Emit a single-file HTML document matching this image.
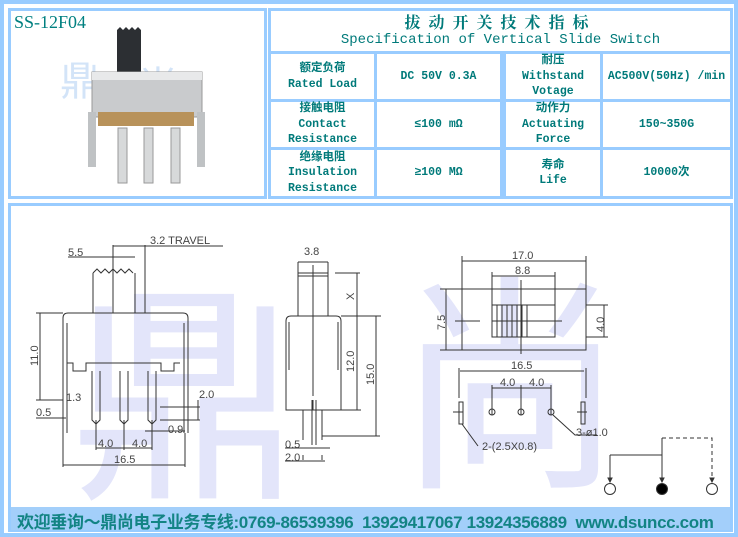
<!DOCTYPE html>
<html><head><meta charset="utf-8"><style>
body{margin:0;width:738px;height:537px;background:#fff;position:relative;overflow:hidden;font-family:"Liberation Mono","Noto Sans CJK SC",monospace;}
.b{position:absolute;border:3px solid #99ccff;box-sizing:border-box}
.c{position:absolute;box-sizing:border-box;border:3px solid #99ccff;display:flex;flex-direction:column;align-items:center;justify-content:center;color:#007a7a;font-weight:bold;font-size:11.5px;line-height:15.5px;text-align:center;white-space:nowrap}
</style></head><body>
<div class="b" style="left:0;top:0;width:738px;height:537px;border-width:4px"></div>
<div class="b" style="left:8;top:8px;left:8px;width:259px;height:191px"></div>
<div style="position:absolute;left:14px;top:12px;font-family:'Liberation Serif',serif;font-size:18px;color:#008080">SS-12F04</div>
<svg style="position:absolute;left:0;top:0" width="738" height="537">
<text x="60" y="95" font-family="Noto Sans CJK SC" font-size="40" fill="#d3e4f8">鼎</text>
<text x="138" y="100" font-family="Noto Sans CJK SC" font-size="40" fill="#d3e4f8">尚</text>
<path d="M117 30 l3 -3 3 3 3 -3 3 3 3 -3 3 3 3 -3 3 3 V72 H117Z" fill="#2c2f33"/>
<rect x="92" y="72" width="110" height="45" fill="#c9cbcd" stroke="#999"/>
<rect x="92" y="72" width="110" height="8" fill="#e8e9ea"/>
<rect x="98" y="112" width="96" height="14" fill="#b8925a"/>
<rect x="88" y="112" width="8" height="55" fill="#bfc2c4"/>
<rect x="197" y="112" width="8" height="55" fill="#bfc2c4"/>
<rect x="118" y="128" width="9" height="55" fill="#d7d9da" stroke="#999"/>
<rect x="144" y="128" width="9" height="55" fill="#d7d9da" stroke="#999"/>
<rect x="171" y="128" width="9" height="55" fill="#d7d9da" stroke="#999"/>
</svg>
<div class="c" style="left:268px;top:8px;width:465px;height:46px;font-size:16px;line-height:19px;font-weight:normal"><div style="font-family:'Noto Serif CJK SC',serif;letter-spacing:8px;font-weight:bold">拔动开关技术指标</div><div style="font-size:14px">Specification of Vertical Slide Switch</div></div>
<div class="c" style="left:268px;top:51px;width:109px;height:51px">额定负荷<br>Rated Load</div>
<div class="c" style="left:374px;top:51px;width:129px;height:51px">DC 50V 0.3A</div>
<div class="c" style="left:503px;top:51px;width:100px;height:51px">耐压<br>Withstand<br>Votage</div>
<div class="c" style="left:600px;top:51px;width:133px;height:51px">AC500V(50Hz) /min</div>
<div class="c" style="left:268px;top:99px;width:109px;height:51px">接触电阻<br>Contact<br>Resistance</div>
<div class="c" style="left:374px;top:99px;width:129px;height:51px">≤100 mΩ</div>
<div class="c" style="left:503px;top:99px;width:100px;height:51px">动作力<br>Actuating<br>Force</div>
<div class="c" style="left:600px;top:99px;width:133px;height:51px">150~350G</div>
<div class="c" style="left:268px;top:147px;width:109px;height:52px">绝缘电阻<br>Insulation<br>Resistance</div>
<div class="c" style="left:374px;top:147px;width:129px;height:52px">≥100 MΩ</div>
<div class="c" style="left:503px;top:147px;width:100px;height:52px">寿命<br>Life</div>
<div class="c" style="left:600px;top:147px;width:133px;height:52px">10000次</div>
<div class="b" style="left:8px;top:203px;width:725px;height:329px"></div>
<div style="position:absolute;left:11px;top:507px;width:719px;height:23px;background:#a3cffa"></div>
<div style="position:absolute;left:17px;top:508px;font-family:'Liberation Sans','Noto Sans CJK SC',sans-serif;font-weight:bold;font-size:17px;color:#138484;white-space:nowrap;letter-spacing:-0.35px">欢迎垂询～鼎尚电子业务专线:0769-86539396&nbsp; 13929417067 13924356889&nbsp; www.dsuncc.com</div>
<svg style="position:absolute;left:0;top:0" width="738" height="537" font-family="Liberation Sans,sans-serif" font-size="11" fill="none" stroke="#333" stroke-width="1">
<text x="70" y="480" font-family="Noto Sans CJK SC" font-size="230" fill="#e3e5fa" stroke="none">鼎</text>
<text x="395" y="470" font-family="Noto Sans CJK SC" font-size="230" fill="#e3e5fa" stroke="none">尚</text>
<g fill="#444" stroke="none">
<text x="68" y="256">5.5</text><text x="150" y="244">3.2  TRAVEL</text>
<text x="38" y="366" transform="rotate(-90 38 366)">11.0</text>
<text x="66" y="401">1.3</text><text x="36" y="416">0.5</text>
<text x="199" y="398">2.0</text><text x="168" y="433">0.9</text>
<text x="98" y="447">4.0</text><text x="132" y="447">4.0</text><text x="114" y="463">16.5</text>
<text x="304" y="255">3.8</text><text x="354" y="300" transform="rotate(-90 354 300)">X</text>
<text x="354" y="372" transform="rotate(-90 354 372)">12.0</text>
<text x="374" y="385" transform="rotate(-90 374 385)">15.0</text>
<text x="285" y="448">0.5</text><text x="285" y="461">2.0</text>
<text x="512" y="259">17.0</text><text x="515" y="274">8.8</text>
<text x="445" y="330" transform="rotate(-90 445 330)">7.5</text>
<text x="604" y="332" transform="rotate(-90 604 332)">4.0</text>
<text x="511" y="369">16.5</text><text x="500" y="386">4.0</text><text x="529" y="386">4.0</text>
<text x="482" y="450">2-(2.5X0.8)</text><text x="576" y="436">3-ø1.0</text>
</g>
<path d="M63 433V318q0-5 5-5h115q5 0 5 5v115M67 433V323M184 433V323"/>
<path d="M93 313V273M135 313V273M93 273l4-4 4 4 4-4 4 4 4-4 4 4 4-4 4 4 4-4 4 4"/>
<path d="M113 313V245M145 313V245M113 246h110M92 257h43M68 257h25"/>
<path d="M40 313V400M36 313h27M36 400h27"/>
<path d="M67 363h6v8h13v-8h75v8h13v-8h6M86 363v8M161 363v8"/>
<path d="M92 371v49l4 4 4-4V371M120 371v49l4 4 4-4V371M148 371v49l4 4 4-4V371"/>
<path d="M96 420v30M124 420v30M152 420v30M96 448h56M63 433v34M185 433v34M63 465h122"/>
<path d="M36 418h30M160 407h40M160 420h40M198 400v20M145 431h40"/>
<path d="M298 316V273h30v43M298 276h30M313 265v130" />
<path d="M313 330v80" stroke-dasharray="10 4"/>
<path d="M286 410V321q0-5 5-5h45q5 0 5 5v89zM289 370V322M338 370V322M303 410v30M322 410v30M312 400v45M316 400v45M298 262h30M298 262v11M328 262v11"/>
<path d="M335 273h25M341 316h40M341 410h20M357 273v137M376 316v120M322 436h58M285 448h45M285 461h40M303 455v5M322 455v5"/>
<path d="M462 289h124v61H462zM492 305h63v32h-63z"/>
<path d="M497 305v32M502 305v32M507 305v32M512 305v32M517 305v32M522 305v32M527 305v32M492 321h63"/>
<path d="M521 280v74M455 321h25M540 321h22M462 256v33M586 256v33M462 261h124M492 272v33M555 272v33M492 276h63M440 289h22M440 350h22M446 289v61M586 305h22M586 337h22M604 305v32"/>
<path d="M459 368v30M586 368v30M460 371h124M492 385v30M521 385v30M551 385v30M492 388h59"/>
<rect x="459" y="402" width="4" height="22"/><rect x="581" y="402" width="4" height="22"/>
<circle cx="492" cy="412" r="3"/><circle cx="521" cy="412" r="3"/><circle cx="551" cy="412" r="3"/>
<path d="M453 412h10M577 412h10M462 424l16 22M553 415l22 20h22"/>
<path d="M662 438v42M610 455h52M610 455v25"/>
<path d="M662 438h50v42" stroke-dasharray="4 3"/>
<path d="M608 478l2 4 2-4zM660 478l2 4 2-4zM710 478l2 4 2-4z" fill="#333"/>
<circle cx="610" cy="489" r="5.5"/><circle cx="662" cy="489" r="5.5" fill="#000"/><circle cx="712" cy="489" r="5.5"/>
</svg>
</body></html>
